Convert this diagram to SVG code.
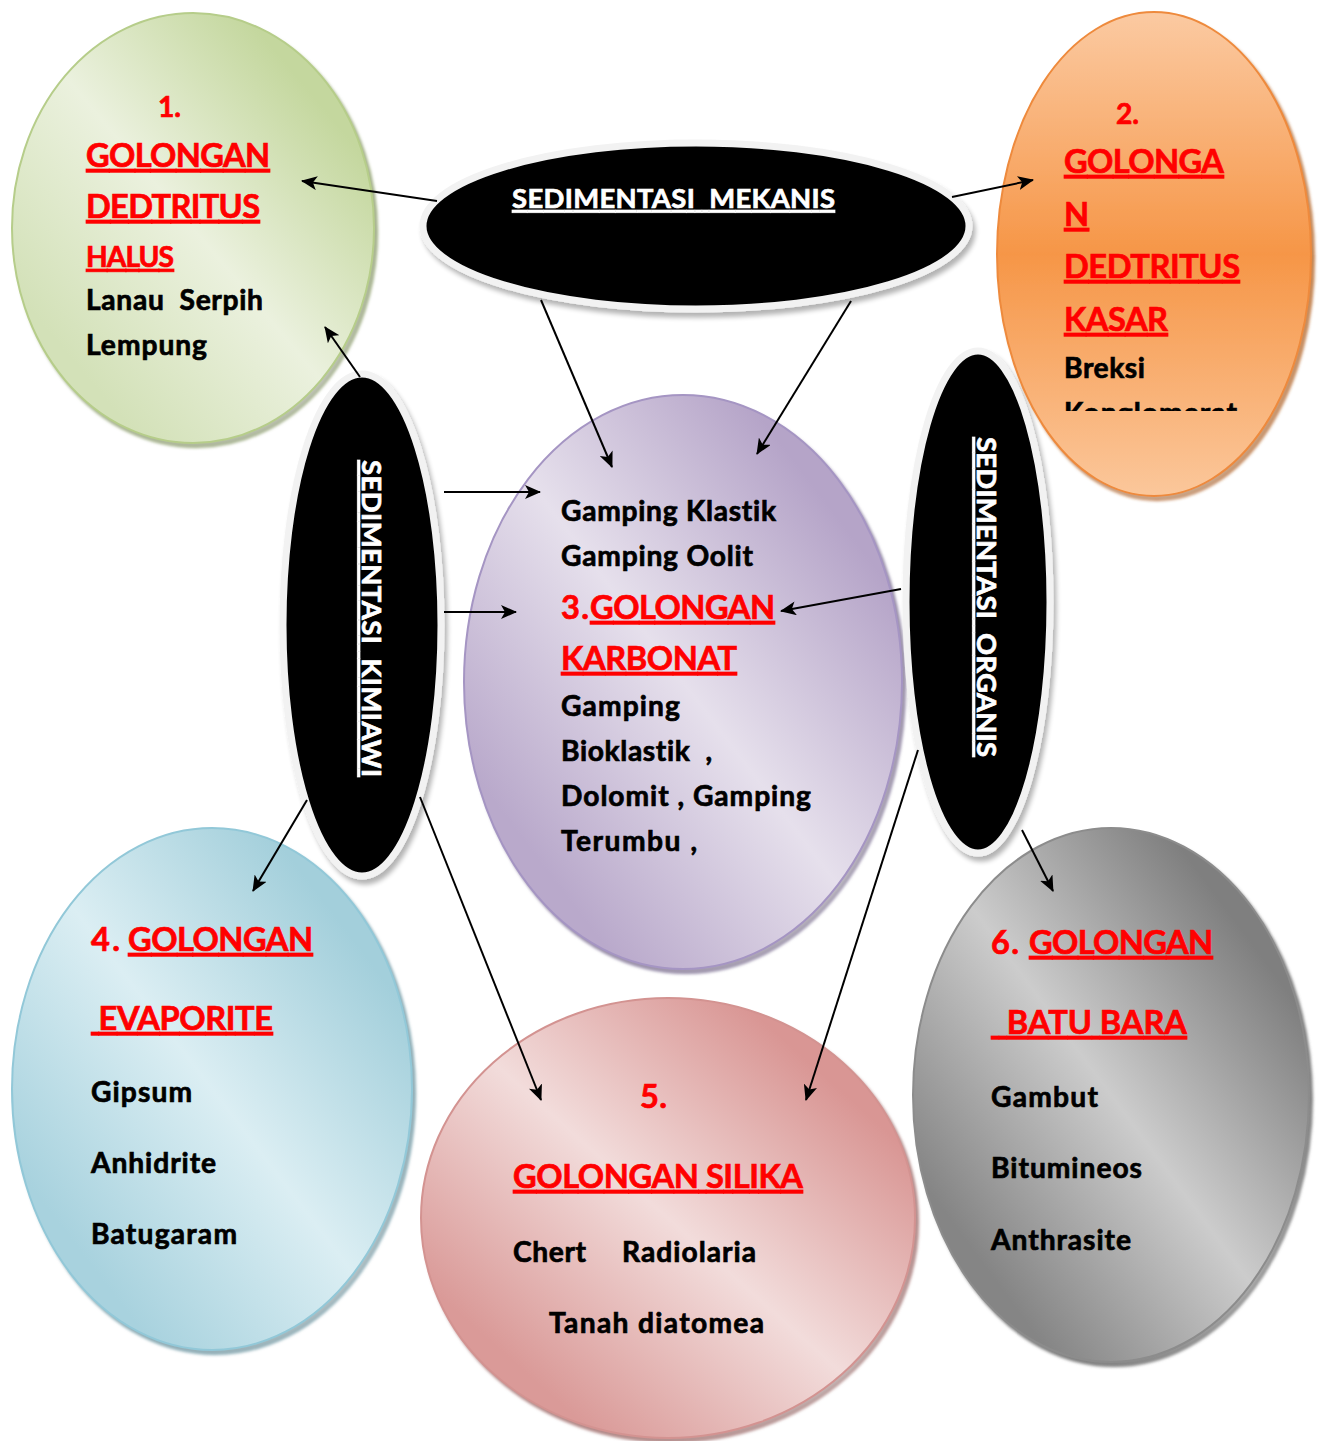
<svg xmlns="http://www.w3.org/2000/svg" width="1321" height="1441" viewBox="0 0 1321 1441">
<style>
.t{font-family:Lato,"Open Sans","Liberation Sans",sans-serif;font-weight:700;font-variant-ligatures:none;stroke-width:0.7px;paint-order:stroke}
.r{fill:#ff0000;stroke:#ff0000;font-size:32.6px}
.rs{fill:#ff0000;stroke:#ff0000;font-size:28.2px}
.k{fill:#000;stroke:#000;font-size:28.2px}
.w{fill:#fff;stroke:#fff;font-size:27.4px}
.u{text-decoration:underline}
.conn{stroke:#000;stroke-width:2;fill:none;marker-end:url(#ah)}
</style>
<defs>
<filter id="sh" x="-5%" y="-5%" width="115%" height="115%">
<feOffset in="SourceGraphic" dx="3" dy="4" result="o"/>
<feColorMatrix in="o" type="matrix" values="0.55 0 0 0 0 0 0.55 0 0 0 0 0 0.55 0 0 0 0 0 0.85 0" result="d"/>
<feGaussianBlur in="d" stdDeviation="1.5" result="b"/>
<feMerge><feMergeNode in="b"/><feMergeNode in="SourceGraphic"/></feMerge>
</filter>
<filter id="bsh" x="-10%" y="-10%" width="125%" height="125%">
<feOffset in="SourceAlpha" dx="3" dy="5" result="o"/>
<feGaussianBlur in="o" stdDeviation="2.5" result="b"/>
<feComponentTransfer in="b" result="c"><feFuncA type="linear" slope="0.3"/></feComponentTransfer>
<feMerge><feMergeNode in="c"/><feMergeNode in="SourceGraphic"/></feMerge>
</filter>
<linearGradient id="gG" x1="0.9" y1="0.1" x2="0.1" y2="0.9">
<stop offset="0.1" stop-color="#c4d79e"/><stop offset="0.5" stop-color="#ebf1de"/><stop offset="0.9" stop-color="#d3e1b8"/>
</linearGradient>
<linearGradient id="gO" x1="0" y1="0" x2="0" y2="1">
<stop offset="0" stop-color="#fbcaa2"/><stop offset="0.5" stop-color="#f69647"/><stop offset="1" stop-color="#fbc79b"/>
</linearGradient>
<linearGradient id="gP" x1="0.9" y1="0.1" x2="0.1" y2="0.9">
<stop offset="0.1" stop-color="#b5a4c8"/><stop offset="0.5" stop-color="#e6e0ec"/><stop offset="0.9" stop-color="#b9a9cb"/>
</linearGradient>
<linearGradient id="gB" x1="0.9" y1="0.1" x2="0.1" y2="0.9">
<stop offset="0.1" stop-color="#a3cfdb"/><stop offset="0.5" stop-color="#dbeef3"/><stop offset="0.9" stop-color="#a8d2de"/>
</linearGradient>
<linearGradient id="gR" x1="0.9" y1="0.1" x2="0.1" y2="0.9">
<stop offset="0.1" stop-color="#d99694"/><stop offset="0.5" stop-color="#f2dcdb"/><stop offset="0.9" stop-color="#da9a98"/>
</linearGradient>
<linearGradient id="gK" x1="0.9" y1="0.1" x2="0.1" y2="0.9">
<stop offset="0.1" stop-color="#7f7f7f"/><stop offset="0.5" stop-color="#cccccc"/><stop offset="0.9" stop-color="#858585"/>
</linearGradient>
<clipPath id="clipO"><rect x="1000" y="0" width="300" height="411"/></clipPath>
<marker id="ah" markerUnits="userSpaceOnUse" viewBox="0 0 16 14" markerWidth="16" markerHeight="14" refX="15" refY="7" orient="auto">
<path d="M0,0 L16,7 L0,14 L4,7 z" fill="#000"/>
</marker>
</defs>
<rect width="1321" height="1441" fill="#fff"/>

<g id="node-golongan1">
<ellipse cx="193" cy="228" rx="181" ry="215" fill="url(#gG)" stroke="#b6cd8a" stroke-width="2" filter="url(#sh)"/>
<text class="t rs" x="158" y="117" textLength="23">1.</text>
<text class="t r u" x="86" y="167" textLength="184">GOLONGAN</text>
<text class="t r u" x="86" y="218" textLength="174">DEDTRITUS</text>
<text class="t rs u" x="86" y="267" textLength="88">HALUS</text>
<text class="t k" x="86" y="310" textLength="177">Lanau&#160; Serpih</text>
<text class="t k" x="86" y="355" textLength="121">Lempung</text>
</g>

<g id="node-golongan3">
<ellipse cx="683" cy="682" rx="219" ry="287" fill="url(#gP)" stroke="#a595c3" stroke-width="2" filter="url(#sh)"/>
<text class="t k" x="561" y="521" textLength="215">Gamping Klastik</text>
<text class="t k" x="561" y="566" textLength="192">Gamping Oolit</text>
<text class="t r" x="561" y="619" textLength="28">3.</text>
<text class="t r u" x="590" y="619" textLength="185">GOLONGAN</text>
<text class="t r u" x="561" y="670" textLength="176">KARBONAT</text>
<text class="t k" x="561" y="716" textLength="119">Gamping</text>
<text class="t k" x="561" y="761" textLength="151">Bioklastik&#160; ,</text>
<text class="t k" x="561" y="806" textLength="250">Dolomit , Gamping</text>
<text class="t k" x="561" y="851" textLength="136">Terumbu ,</text>
</g>

<g id="node-golongan4">
<ellipse cx="212" cy="1089" rx="200" ry="261" fill="url(#gB)" stroke="#92c8d8" stroke-width="2" filter="url(#sh)"/>
<text class="t r" x="91" y="951" textLength="29">4.</text>
<text class="t r u" x="128" y="951" textLength="185">GOLONGAN</text>
<text class="t r u" x="91" y="1030" textLength="182">&#160;EVAPORITE</text>
<text class="t k" x="91" y="1102" textLength="101">Gipsum</text>
<text class="t k" x="91" y="1173" textLength="125">Anhidrite</text>
<text class="t k" x="91" y="1244" textLength="146">Batugaram</text>
</g>

<g id="node-golongan5">
<ellipse cx="668" cy="1218" rx="247" ry="220" fill="url(#gR)" stroke="#d39391" stroke-width="2" filter="url(#sh)"/>
<text class="t r" x="640" y="1108" textLength="27">5.</text>
<text class="t r u" x="513" y="1188" textLength="290">GOLONGAN SILIKA</text>
<text class="t k" y="1262"><tspan x="513" textLength="73">Chert</tspan><tspan x="622" textLength="134">Radiolaria</tspan></text>
<text class="t k" x="549" y="1333" textLength="215">Tanah diatomea</text>
</g>

<g id="node-golongan6">
<ellipse cx="1111" cy="1095" rx="198" ry="267" fill="url(#gK)" stroke="#8c8c8c" stroke-width="2" filter="url(#sh)"/>
<text class="t r" x="991" y="954" textLength="28">6.</text>
<text class="t r u" x="1029" y="954" textLength="184">GOLONGAN</text>
<text class="t r u" x="991" y="1034" textLength="196">&#160;&#160;BATU BARA</text>
<text class="t k" x="991" y="1107" textLength="107">Gambut</text>
<text class="t k" x="991" y="1178" textLength="151">Bitumineos</text>
<text class="t k" x="991" y="1250" textLength="140">Anthrasite</text>
</g>

<g id="node-mekanis">
<ellipse cx="696" cy="226" rx="273" ry="83" fill="#000" stroke="#f2f2f2" stroke-width="7" filter="url(#bsh)"/>
<text class="t w u" x="512" y="208" textLength="323">SEDIMENTASI&#160; MEKANIS</text>
</g>

<g id="node-kimiawi">
<ellipse cx="362" cy="625" rx="79" ry="251" fill="#000" stroke="#f2f2f2" stroke-width="7" filter="url(#bsh)"/>
<text class="t w u" transform="translate(362,460) rotate(90)" x="0" y="0" textLength="317">SEDIMENTASI&#160; KIMIAWI</text>
</g>

<g id="node-organis">
<ellipse cx="978" cy="602" rx="72" ry="251" fill="#000" stroke="#f2f2f2" stroke-width="7" filter="url(#bsh)"/>
<text class="t w u" transform="translate(977,437) rotate(90)" x="0" y="0" textLength="320">SEDIMENTASI&#160; ORGANIS</text>
</g>

<g id="node-golongan2">
<ellipse cx="1154" cy="254" rx="157" ry="242" fill="url(#gO)" stroke="#ee8a3c" stroke-width="2" filter="url(#sh)"/>
<text class="t rs" x="1116" y="124" textLength="23">2.</text>
<text class="t r u" x="1064" y="173" textLength="160">GOLONGA</text>
<text class="t r u" x="1064" y="226" textLength="24">N</text>
<text class="t r u" x="1064" y="278" textLength="176">DEDTRITUS</text>
<text class="t r u" x="1064" y="331" textLength="104">KASAR</text>
<text class="t k" x="1064" y="378" textLength="81">Breksi</text>
<text class="t k" x="1064" y="423" textLength="173" clip-path="url(#clipO)">Konglomerat</text>
</g>

<g id="connectors">
<path class="conn" d="M437,201 L302,181"/>
<path class="conn" d="M952,197 L1033,180"/>
<path class="conn" d="M541,300 L612,467"/>
<path class="conn" d="M851,301 L757,454"/>
<path class="conn" d="M360,377 L325,327"/>
<path class="conn" d="M444,492 L540,492"/>
<path class="conn" d="M444,612 L516,612"/>
<path class="conn" d="M307,800 L253,891"/>
<path class="conn" d="M420,797 L541,1100"/>
<path class="conn" d="M901,589 L781,611"/>
<path class="conn" d="M918,750 L806,1100"/>
<path class="conn" d="M1022,830 L1053,891"/>
</g>
</svg>
